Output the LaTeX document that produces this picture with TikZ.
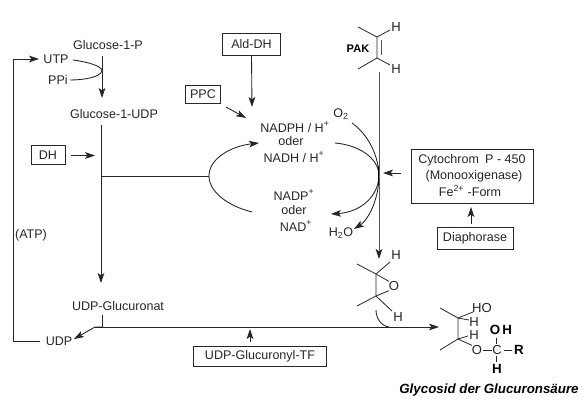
\documentclass[tikz,border=0pt]{standalone}
\usepackage{fontspec}
\setmainfont{Liberation Sans}
\usetikzlibrary{arrows.meta}
\definecolor{ink}{HTML}{262626}
\definecolor{axis}{HTML}{5A5A5A}
\tikzset{
  x=0.75pt,y=-0.75pt,
  every node/.style={font=\fontsize{9.4}{11}\selectfont,text=ink,inner sep=0pt,outer sep=0pt},
  lbl/.style={anchor=center},
  chem/.style={font=\fontsize{9.8}{11}\selectfont},
  chembold/.style={font=\fontsize{10}{11}\selectfont\bfseries,text=black},
  boxed/.style={draw=ink,line width=0.6pt,minimum height=15pt,anchor=center},
  ln/.style={draw=ink,line width=0.65pt},
  arr/.style={ln,-{Stealth[length=7.5pt,width=5pt,inset=1.8pt]}},
  bond/.style={draw=ink,line width=0.6pt},
}
\begin{document}
\begin{tikzpicture}
\useasboundingbox (0,0) rectangle (583,414);
% labels
\node[lbl] (g1p) at (108,45) {Glucose-1-P};
\node[lbl] (utp) at (56,59) {UTP};
\node[lbl] (ppi) at (58,80) {PPi};
\node[lbl] (g1u) at (114,114) {Glucose-1-UDP};
\node[boxed,minimum width=25.5pt,minimum height=14.5pt] (dh) at (48,155) {DH};
\node[boxed,minimum width=43pt,minimum height=16.5pt] (ald) at (251.5,44) {Ald-DH};
\node[boxed,minimum width=26pt,minimum height=13.5pt] (ppc) at (203,94) {PPC};
\node[lbl] (nadph) at (295,127) {NADPH / H\textsuperscript{+}};
\node[lbl] (oder1) at (291,141) {oder};
\node[lbl] (nadh) at (294,157) {NADH / H\textsuperscript{+}};
\node[lbl] (nadp) at (294,195) {NADP\textsuperscript{+}};
\node[lbl] (oder2) at (294,210) {oder};
\node[lbl] (nad) at (296,226) {NAD\textsuperscript{+}};
\node[lbl] (o2) at (341,114) {O\textsubscript{2}};
\node[lbl] (h2o) at (341,233) {H\textsubscript{2}O};
\node[boxed,minimum width=91.5pt,minimum height=40.5pt] (cyt) at (472,176) {};
\node[lbl] (cyt1) at (472,160) {Cytochrom\enspace P - 450};
\node[lbl] (cyt2) at (474,176) {(Monooxigenase)};
\node[lbl] (cyt3) at (470,191) {Fe\textsuperscript{2+} -Form};
\node[boxed,minimum width=57pt,minimum height=16.5pt] (dia) at (475,238) {Diaphorase};
\node[lbl] (udpg) at (118,306) {UDP-Glucuronat};
\node[lbl] (udp) at (59,341) {UDP};
\node[boxed,minimum width=100pt,minimum height=15pt] (tf) at (260,356) {UDP-Glucuronyl-TF};
\node[font=\fontsize{8.3}{10}\selectfont\bfseries,text=black] (pak) at (358,49) {PAK};
\node[font=\fontsize{10}{11}\selectfont\bfseries\itshape,text=black] (title) at (489,390) {Glycosid der Glucuronsäure};
\node[lbl] (atp) at (31,235) {(ATP)};
% coordinates
\coordinate (leftT) at (13,59);
\coordinate (leftB) at (13,341);
\coordinate (utpTip) at (39,59);
\coordinate (udpL) at (40,341);
\coordinate (g1pS) at (102,56);
\coordinate (g1uN) at (102,98);
\coordinate (loop) at (102,71);
\coordinate (trunkT) at (101,125);
\coordinate (trunkB) at (101,283);
\coordinate (dhS) at (71,155.5);
\coordinate (dhEnd) at (95,155.5);
\coordinate (branch) at (101,176);
\coordinate (bow) at (209,176);
\coordinate (bowEnd) at (252,212);
\coordinate (bowTip) at (259,143);
\coordinate (aldTip) at (252,107);
\coordinate (ppcS) at (226,107);
\coordinate (ppcTip) at (246,118);
\coordinate (o2S) at (352,123);
\coordinate (nS) at (335,143);
\coordinate (meet) at (379,175);
\coordinate (nadTip) at (331,214);
\coordinate (h2oTip) at (354,229);
\coordinate (axisT) at (379,72);
\coordinate (axisB) at (379,259);
\coordinate (cytS) at (401,173);
\coordinate (cytTip) at (383,173);
\coordinate (diaTip) at (471,207);
\coordinate (diaS) at (471,224);
\coordinate (stub) at (102,315);
\coordinate (jn) at (102,327);
\coordinate (kink) at (95,327);
\coordinate (udpTip) at (74,339);
\coordinate (mainTip) at (439,327);
\coordinate (tfS) at (250,342);
\coordinate (tfTip) at (250,329);
\coordinate (hookS) at (376,310);
\coordinate (hookE) at (389,327);
% connectors
\draw[arr] (udpL) -- (leftB) -- (leftT) -- (utpTip);
\draw[arr] (g1pS) -- (g1uN);
\draw[ln] (73,60) .. controls (88,62) and (102,66) .. (loop) .. controls (100,77) and (85,80) .. (70,80);
\draw[arr] (trunkT) -- (trunkB);
\draw[arr] (dhS) -- (dhEnd);
\draw[ln] (branch) -- (bow);
\draw[arr] (bowEnd) .. controls (228,206) and (209,192) .. (bow) .. controls (209,158) and (232,146) .. (bowTip);
\draw[arr] (ald.south) -- (aldTip);
\draw[arr] (ppcS) -- (ppcTip);
\draw[ln] (o2S) .. controls (366,133) and (378,152) .. (meet);
\draw[ln] (nS) .. controls (358,145) and (378,157) .. (meet);
\draw[arr] (meet) .. controls (379,195) and (362,212) .. (nadTip);
\draw[arr] (meet) .. controls (379,200) and (368,220) .. (h2oTip);
\draw[draw=black,line width=1pt] (379,166) -- (379,184);
\draw[draw=axis,line width=0.75pt,-{Stealth[length=7.5pt,width=5pt,inset=1.8pt,color=ink]}] (axisT) -- (axisB);
\draw[arr] (cytS) -- (cytTip);
\draw[arr] (diaS) -- (diaTip);
\draw[ln] (stub) -- (jn);
\draw[arr] (jn) -- (kink) -- (udpTip);
\draw[arr] (kink) -- (mainTip);
\draw[arr] (tfS) -- (tfTip);
\draw[ln] (hookS) .. controls (376,318) and (381,326) .. (hookE);
% alkene
\coordinate (a1) at (377,37); \coordinate (a2) at (377,58);
\coordinate (a3) at (358,27); \coordinate (a4) at (358,69);
\coordinate (a5) at (390,30); \coordinate (a6) at (390,65);
\node[chem] (ah1) at (396,27) {H}; \node[chem] (ah2) at (396,69) {H};
\draw[bond] (a3)--(a1)--(a5) (a4)--(a2)--(a6) (a1)--(a2);
\draw[bond,draw=axis] (381,40)--(381,55);
% epoxide
\coordinate (e1) at (376,274); \coordinate (e2) at (376,296);
\coordinate (e3) at (357,264); \coordinate (e4) at (357,306);
\coordinate (e5) at (390,262); \coordinate (e6) at (392,311);
\node[chem] (eo) at (394,286) {O};
\node[chem] (eh1) at (396,255) {H}; \node[chem] (eh2) at (398,317) {H};
\draw[bond] (e3)--(e1)--(e5) (e4)--(e2)--(e6) (e1)--(e2);
\draw[bond] (e1)--(eo.north west) (e2)--(eo.south west);
% product
\coordinate (p1) at (458,318); \coordinate (p2) at (458,339);
\coordinate (p3) at (440,308); \coordinate (p4) at (440,350);
\coordinate (p5) at (473,312); \coordinate (p6) at (469,320);
\coordinate (p7) at (468,336);
\node[chem] (pho) at (482,308) {HO};
\node[chem] (ph1) at (474,322) {H};
\node[chem] (ph2) at (474,335) {H};
\node[chem] (po) at (477,350) {O};
\node[chem] (pc) at (497,350) {C};
\node[chembold] (poh) at (501,330) {O\,H};
\node[chembold] (phb) at (497,369) {H};
\node[chembold] (pr) at (519,350) {R};
\draw[bond] (p3)--(p1)--(p5) (p1)--(p6) (p4)--(p2)--(p7) (p1)--(p2);
\draw[bond] (p2)--(po.north west);
\draw[bond] (po.east)++(1,0)--(pc.west);
\draw[bond] (496.5,338)--(496.5,344) (496.5,356)--(496.5,362) (504,350)--(512,350);
\end{tikzpicture}
\end{document}
